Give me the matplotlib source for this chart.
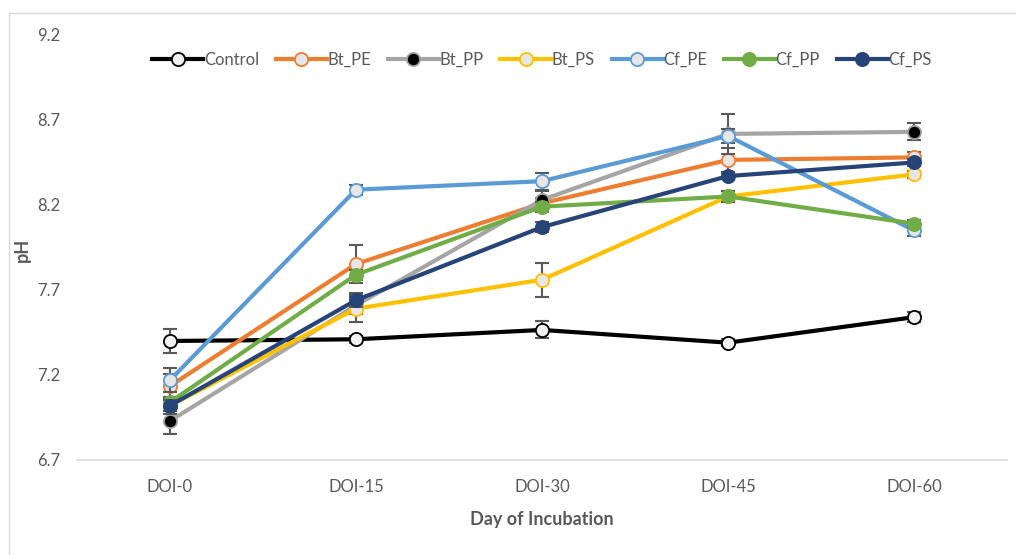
import matplotlib.pyplot as plt
from matplotlib.lines import Line2D

# pH over incubation days, mean and error for each treatment
days = ["DOI-0", "DOI-15", "DOI-30", "DOI-45", "DOI-60"]

control = [7.40, 7.41, 7.465, 7.39, 7.54]
bt_pe = [7.135, 7.853, 8.21, 8.465, 8.48]
bt_pp = [6.93, 7.61, 8.23, 8.618, 8.63]
bt_ps = [7.02, 7.59, 7.76, 8.25, 8.38]
cf_pe = [7.17, 8.29, 8.34, 8.606, 8.05]
cf_pp = [7.04, 7.79, 8.19, 8.25, 8.09]
cf_ps = [7.02, 7.64, 8.07, 8.37, 8.45]

control_err = [0.07, 0.02, 0.05, 0.02, 0.03]
bt_pe_err = [0.07, 0.11, 0.03, 0.07, 0.03]
bt_pp_err = [0.08, 0.05, 0.05, 0.12, 0.05]
bt_ps_err = [0.05, 0.08, 0.10, 0.03, 0.02]
cf_pe_err = [0.07, 0.03, 0.05, 0.04, 0.03]
cf_pp_err = [0.03, 0.03, 0.03, 0.03, 0.02]
cf_ps_err = [0.03, 0.04, 0.03, 0.02, 0.02]

plt.rcParams['font.family'] = ['Lato', 'DejaVu Sans']

fig = plt.figure(figsize=(10.16, 5.55), dpi=100)
ax = fig.add_axes([0.0758, 0.1712, 0.9154, 0.7658])
ax.patch.set_visible(False)

# outer chart frame, only the left and top edges show
fx = 8.5 / 1016
fy = 1 - 12.5 / 555
fig.add_artist(Line2D([fx, fx], [0, fy], transform=fig.transFigure,
                      color='#d9d9d9', linewidth=1))
fig.add_artist(Line2D([fx, 1], [fy, fy], transform=fig.transFigure,
                      color='#d9d9d9', linewidth=1))

x = list(range(len(days)))
series = [
    ("Control", control, control_err, 'black', '#f2f2f2', 'black'),
    ("Bt_PE", bt_pe, bt_pe_err, '#ED7D31', '#e7e6e6', '#ED7D31'),
    ("Bt_PP", bt_pp, bt_pp_err, '#A5A5A5', 'black', '#A5A5A5'),
    ("Bt_PS", bt_ps, bt_ps_err, '#FFC000', '#e7e6e6', '#FFC000'),
    ("Cf_PE", cf_pe, cf_pe_err, '#5B9BD5', '#e7e6e6', '#5B9BD5'),
    ("Cf_PP", cf_pp, cf_pp_err, '#70AD47', '#70AD47', '#70AD47'),
    ("Cf_PS", cf_ps, cf_ps_err, '#264478', '#264478', '#264478'),
]

for i, (name, vals, err, col, face, edge) in enumerate(series):
    ax.errorbar(x, vals, yerr=err, fmt='none', ecolor='#595959',
                elinewidth=1.5, capsize=5, capthick=1.5, zorder=2 + i * 2)
    ax.plot(x, vals, color=col, linewidth=3, marker='o', markersize=9.5,
            markerfacecolor=face, markeredgecolor=edge, markeredgewidth=1.3,
            label=name, zorder=3 + i * 2)

ax.set_xlim(-0.5, 4.5)
ax.set_ylim(6.7, 9.2)
ax.set_yticks([6.7, 7.2, 7.7, 8.2, 8.7, 9.2])
ax.set_yticklabels(["6.7", "7.2", "7.7", "8.2", "8.7", "9.2"])
ax.set_xticks(x)
ax.set_xticklabels(days)
ax.tick_params(axis='both', length=0, labelsize=12, labelcolor='#595959')
ax.tick_params(axis='y', pad=12)
ax.tick_params(axis='x', pad=14)

for s in ['top', 'right', 'left']:
    ax.spines[s].set_visible(False)
ax.spines['bottom'].set_color('#d9d9d9')
ax.spines['bottom'].set_linewidth(1.2)

ax.set_xlabel("Day of Incubation", fontsize=13, fontweight='bold',
              color='#595959', labelpad=11)
ax.set_ylabel("pH", fontsize=13, fontweight='bold', color='#595959')
ax.yaxis.set_label_coords(-0.05, 0.494)

ax.legend(loc='upper center', bbox_to_anchor=(0.5, 0.995), ncol=7,
          frameon=False, fontsize=12, handlelength=3.05, columnspacing=1.0,
          handletextpad=0.05, labelcolor='#595959')

fig.savefig("out.png", dpi=100)
